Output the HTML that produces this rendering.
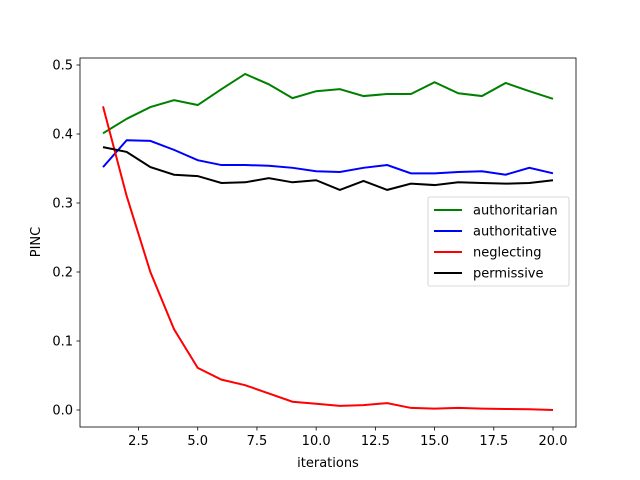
<!DOCTYPE html>
<html><head><meta charset="utf-8"><style>body{margin:0;background:#fff}svg{display:block;font-family:"DejaVu Sans","Liberation Sans",sans-serif}</style></head>
<body>
<svg id="chart" width="640" height="480"></svg>
<script>
const iterations=[1,2,3,4,5,6,7,8,9,10,11,12,13,14,15,16,17,18,19,20];
const authoritarian=[0.401,0.422,0.439,0.449,0.442,0.465,0.487,0.472,0.452,0.462,0.465,0.455,0.458,0.458,0.475,0.459,0.455,0.474,0.462,0.451];
const authoritative=[0.352,0.391,0.390,0.377,0.362,0.355,0.355,0.354,0.351,0.346,0.345,0.351,0.355,0.343,0.343,0.345,0.346,0.341,0.351,0.343];
const neglecting=[0.44,0.31,0.20,0.117,0.061,0.044,0.036,0.024,0.012,0.009,0.006,0.007,0.010,0.003,0.002,0.003,0.002,0.0015,0.001,0.000];
const permissive=[0.381,0.374,0.352,0.341,0.339,0.329,0.330,0.336,0.330,0.333,0.319,0.332,0.319,0.328,0.326,0.330,0.329,0.328,0.329,0.333];
const xTicks=[2.5,5.0,7.5,10.0,12.5,15.0,17.5,20.0];
const yTicks=[0.0,0.1,0.2,0.3,0.4,0.5];
const seriesNames=["authoritarian","authoritative","neglecting","permissive"];
const seriesColors=["#008000","#0000ff","#ff0000","#000000"];
const L=80,R=576,T=58,B=427;
const xs=v=>103+(v-1)*(450/19);
const ys=v=>410-v*690;
const NS="http://www.w3.org/2000/svg";
const svg=document.getElementById("chart");
function mk(tag,attrs,parent){const e=document.createElementNS(NS,tag);for(const k in attrs)e.setAttribute(k,attrs[k]);(parent||svg).appendChild(e);return e;}
const all=[authoritarian,authoritative,neglecting,permissive];
all.forEach((s,i)=>{
  const p=mk("polyline",{points:s.map((v,j)=>xs(iterations[j])+","+ys(v)).join(" "),fill:"none",stroke:seriesColors[i],"stroke-width":2});
  
  
});
const frame=mk("rect",{x:L,y:T,width:R-L,height:B-T,fill:"none",stroke:"#000","stroke-width":0.8});


xTicks.forEach(t=>{
  const x=xs(t);
  mk("line",{x1:x,x2:x,y1:B,y2:B+3.5,stroke:"#000","stroke-width":0.8});
  const tx=mk("text",{x:x,y:B+18,"text-anchor":"middle","font-size":13});
  tx.textContent=t.toFixed(1);
  
  
});
yTicks.forEach(t=>{
  const y=ys(t);
  mk("line",{x1:L,x2:L-3.5,y1:y,y2:y,stroke:"#000","stroke-width":0.8});
  const tx=mk("text",{x:L-7,y:y+4.5,"text-anchor":"end","font-size":13});
  tx.textContent=t.toFixed(1);
  
  
});
const xt=mk("text",{x:328,y:467,"text-anchor":"middle","font-size":13});
xt.textContent="iterations";


const yt=mk("text",{x:40,y:242,"text-anchor":"middle","font-size":13,transform:"rotate(-90 40 242)"});
yt.textContent="PINC";


const lg=mk("g",{});


mk("rect",{x:428,y:197,width:141,height:89,rx:2,fill:"#fff","fill-opacity":0.8,stroke:"#ccc","stroke-width":0.8},lg);
seriesNames.forEach((n,i)=>{
  const y=210+i*21;
  const g=mk("g",{},lg);
  
  
  mk("line",{x1:434,x2:462,y1:y,y2:y,stroke:seriesColors[i],"stroke-width":2},g);
  const t=mk("text",{x:473,y:y+4.5,"font-size":13},g);
  t.textContent=n;
});
</script>
</body></html>
